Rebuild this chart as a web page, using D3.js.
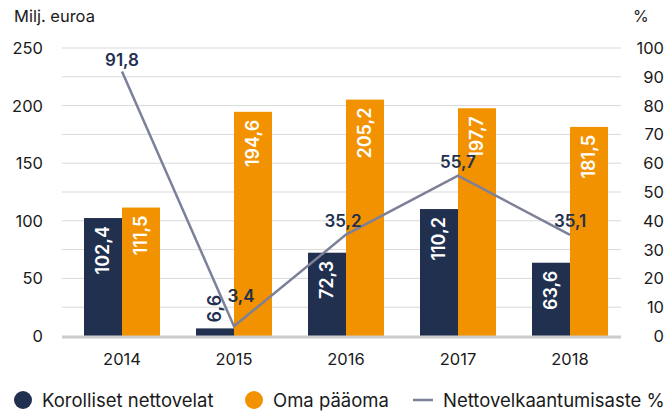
<!DOCTYPE html>
<html>
<head>
<meta charset="utf-8">
<script src="https://cdn.jsdelivr.net/npm/d3@7"></script>
<style>
  body { margin: 0; background: #fff; }
  text { font-family: Inter, "Noto Sans", sans-serif; }
</style>
</head>
<body>
<div id="chart"></div>
<script>
var years = ["2014", "2015", "2016", "2017", "2018"];
var nettovelat = [102.4, 6.6, 72.3, 110.2, 63.6];
var omaPaaoma = [111.5, 194.6, 205.2, 197.7, 181.5];
var velkaantumisaste = [91.8, 3.4, 35.2, 55.7, 35.1];
var leftTicks = [0, 50, 100, 150, 200, 250];
var rightTicks = [0, 10, 20, 30, 40, 50, 60, 70, 80, 90, 100];

var width = 666, height = 413,
    navy = "#22304f", orange = "#f39200", lineColor = "#7c8099";

var fmt = function(v) { return String(v.toFixed(1)).replace(".", ","); };

var svg = d3.select("#chart").append("svg")
    .attr("width", width)
    .attr("height", height);

var x = d3.scaleBand().domain(years).range([66, 626]);
var y = d3.scaleLinear().domain([0, 250]).range([336, 48]);
var y2 = d3.scaleLinear().domain([0, 100]).range([336, 48]);
var barW = 38;
var cx = function(d) { return x(d) + x.bandwidth() / 2; };

// gridlines every 25
svg.append("g").selectAll("line")
    .data(d3.range(25, 251, 25))
    .enter().append("line")
    .attr("x1", 62).attr("x2", 621)
    .attr("y1", function(d) { return y(d); })
    .attr("y2", function(d) { return y(d); })
    .attr("stroke", "#d9d9d9")
    .attr("stroke-width", 1);

// left ticks
svg.append("g").selectAll("text")
    .data(leftTicks)
    .enter().append("text")
    .attr("x", 43)
    .attr("y", function(d) { return y(d) + 6; })
    .attr("text-anchor", "end")
    .style("font-size", "16.5px")
    .attr("fill", "#1a1a1a")
    .text(function(d) { return d; });

// right ticks
svg.append("g").selectAll("text")
    .data(rightTicks)
    .enter().append("text")
    .attr("x", 664)
    .attr("y", function(d) { return y2(d) + 6; })
    .attr("text-anchor", "end")
    .style("font-size", "16.5px")
    .attr("fill", "#1a1a1a")
    .text(function(d) { return d; });

svg.append("text").attr("x", 14).attr("y", 22)
    .style("font-size", "16.5px").attr("fill", "#1a1a1a").text("Milj. euroa");
svg.append("text").attr("x", 633).attr("y", 22)
    .style("font-size", "16px").attr("fill", "#1a1a1a").text("%");

// x labels
svg.append("g").selectAll("text")
    .data(years)
    .enter().append("text")
    .attr("x", cx)
    .attr("y", 365)
    .attr("text-anchor", "middle")
    .style("font-size", "16.5px")
    .attr("fill", "#1a1a1a")
    .text(function(d) { return d; });

// bars
var groups = svg.append("g").selectAll("g")
    .data(years)
    .enter().append("g");

groups.append("rect")
    .attr("x", function(d) { return cx(d) - barW; })
    .attr("y", function(d, i) { return y(nettovelat[i]); })
    .attr("width", barW)
    .attr("height", function(d, i) { return y(0) - y(nettovelat[i]); })
    .attr("fill", navy);

groups.append("rect")
    .attr("x", function(d) { return cx(d); })
    .attr("y", function(d, i) { return y(omaPaaoma[i]); })
    .attr("width", barW)
    .attr("height", function(d, i) { return y(0) - y(omaPaaoma[i]); })
    .attr("fill", orange);

// zero line
svg.append("line")
    .attr("x1", 62).attr("x2", 621)
    .attr("y1", y(0) + 1).attr("y2", y(0) + 1)
    .attr("stroke", "#cccccc").attr("stroke-width", 3);

// line series
var line = d3.line()
    .x(function(d, i) { return cx(years[i]); })
    .y(function(d) { return y2(d); });

svg.append("path")
    .datum(velkaantumisaste)
    .attr("d", line)
    .attr("fill", "none")
    .attr("stroke", lineColor)
    .attr("stroke-width", 2.5);

// bar value labels (rotated)
var inside = function(v) { return y(0) - y(v) > 50; };

groups.append("text")
    .attr("transform", function(d, i) {
        var v = nettovelat[i];
        var ty = inside(v) ? y(v) + 8 : y(v) - 6;
        return "translate(" + (cx(d) - barW / 2 + 6) + "," + ty + ") rotate(-90)";
    })
    .attr("text-anchor", function(d, i) { return inside(nettovelat[i]) ? "end" : "start"; })
    .style("font-size", "18px")
    .style("font-weight", "600")
    .attr("fill", function(d, i) { return inside(nettovelat[i]) ? "#fff" : navy; })
    .text(function(d, i) { return fmt(nettovelat[i]); });

groups.append("text")
    .attr("transform", function(d, i) {
        return "translate(" + (cx(d) + barW / 2 + 6) + "," + (y(omaPaaoma[i]) + 8) + ") rotate(-90)";
    })
    .attr("text-anchor", "end")
    .style("font-size", "18px")
    .style("font-weight", "600")
    .attr("fill", "#fff")
    .text(function(d, i) { return fmt(omaPaaoma[i]); });

// line value labels
var lineLabelOffsets = [[0, -6], [7, -24], [-3, -8], [0, -8], [0, -8]];
svg.append("g").selectAll("text")
    .data(velkaantumisaste)
    .enter().append("text")
    .attr("x", function(d, i) { return cx(years[i]) + lineLabelOffsets[i][0]; })
    .attr("y", function(d, i) { return y2(d) + lineLabelOffsets[i][1]; })
    .attr("text-anchor", "middle")
    .style("font-size", "17px")
    .style("font-weight", "600")
    .attr("fill", navy)
    .text(function(d) { return fmt(d); });

// legend
var legend = svg.append("g").attr("transform", "translate(0,400)");
legend.append("circle").attr("cx", 23).attr("cy", 0).attr("r", 9).attr("fill", navy);
legend.append("text").attr("x", 42).attr("y", 6.5).style("font-size", "18.5px")
    .attr("fill", "#1a1a1a").text("Korolliset nettovelat");
legend.append("circle").attr("cx", 254).attr("cy", 0).attr("r", 9).attr("fill", orange);
legend.append("text").attr("x", 273).attr("y", 6.5).style("font-size", "18.5px")
    .attr("fill", "#1a1a1a").text("Oma pääoma");
legend.append("line").attr("x1", 413).attr("x2", 433).attr("y1", 0).attr("y2", 0)
    .attr("stroke", lineColor).attr("stroke-width", 2.5);
legend.append("text").attr("x", 443).attr("y", 6.5).style("font-size", "18.5px")
    .attr("fill", "#1a1a1a").text("Nettovelkaantumisaste %");
</script>
</body>
</html>
